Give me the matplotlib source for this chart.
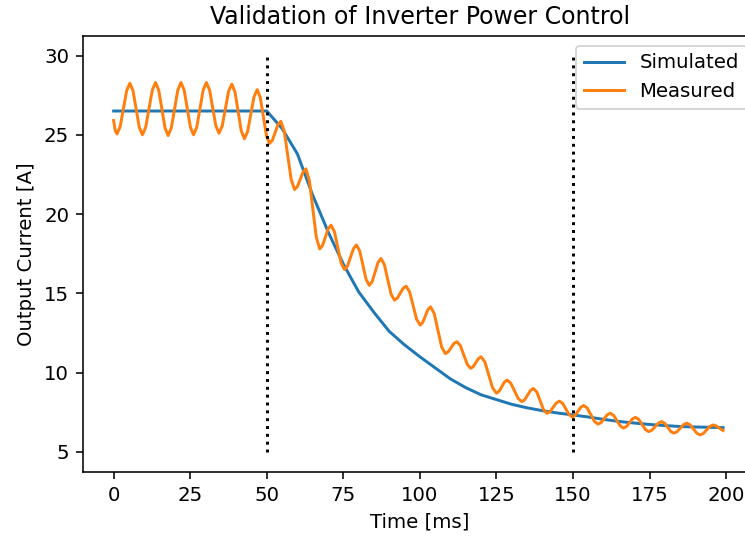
import matplotlib
matplotlib.use("Agg")
import matplotlib.pyplot as plt

# simulated output current
sim_t = [0, 50, 55, 60, 65, 70, 75, 80, 85, 90, 95, 100, 105, 110, 115, 120,
         125, 130, 135, 140, 145, 150, 155, 160, 165, 170, 175, 180, 185,
         190, 195, 199]
sim_i = [26.5, 26.5, 25.4, 23.8, 21.2, 18.9, 16.85, 15.1, 13.8, 12.6, 11.75,
         11.0, 10.3, 9.6, 9.05, 8.6, 8.3, 8.0, 7.78, 7.6, 7.45, 7.33, 7.2,
         7.05, 6.92, 6.82, 6.73, 6.66, 6.6, 6.57, 6.55, 6.53]

# measured output current
meas_t = [0, 0.5, 1.1, 2.15, 3.2, 4.25, 5.3, 6.33, 7.35, 8.38, 9.4,
          10.48, 11.55, 12.63, 13.7, 14.73, 15.75, 16.78, 17.8,
          18.85, 19.9, 20.95, 22.0, 23.03, 24.05, 25.08, 26.1,
          27.15, 28.2, 29.25, 30.3, 31.33, 32.35, 33.38, 34.4,
          35.45, 36.5, 37.55, 38.6, 39.63, 40.65, 41.68, 42.7,
          43.75, 44.8, 45.85, 46.9, 47.9, 48.9, 49.9, 50.9,
          51.83, 52.75, 53.68, 54.6, 55.73, 56.85, 57.98, 59.1,
          60.03, 60.95, 61.88, 62.8, 63.93, 65.05, 66.18, 67.3,
          68.23, 69.15, 70.08, 71.0, 72.1, 73.2, 74.3, 75.4,
          76.38, 77.35, 78.33, 79.3, 80.35, 81.4, 82.45, 83.5,
          84.45, 85.4, 86.35, 87.3, 88.4, 89.5, 90.6, 91.7,
          92.65, 93.6, 94.55, 95.5, 96.65, 97.8, 98.95, 100.1,
          100.95, 101.8, 102.65, 103.5, 104.7, 105.9, 107.1, 108.3,
          109.25, 110.2, 111.15, 112.1, 113.23, 114.35, 115.48, 116.6,
          117.45, 118.3, 119.15, 120.0, 121.25, 122.5, 123.75, 125.0,
          125.88, 126.75, 127.63, 128.5, 129.7, 130.9, 132.1, 133.3,
          134.25, 135.2, 136.15, 137.1, 138.2, 139.3, 140.4, 141.5,
          142.53, 143.55, 144.58, 145.6, 146.65, 147.7, 148.75, 149.8,
          150.73, 151.65, 152.58, 153.5, 154.68, 155.85, 157.03, 158.2,
          159.2, 160.2, 161.2, 162.2, 163.28, 164.35, 165.43, 166.5,
          167.48, 168.45, 169.43, 170.4, 171.48, 172.55, 173.63, 174.7,
          175.78, 176.85, 177.93, 179.0, 179.98, 180.95, 181.93, 182.9,
          183.98, 185.05, 186.13, 187.2, 188.28, 189.35, 190.43, 191.5,
          192.58, 193.65, 194.73, 195.8, 196.6, 197.4, 198.2, 199.0]
meas_i = [25.9, 25.3, 25.05, 25.52, 26.65, 27.78, 28.25, 27.78, 26.63, 25.47, 25.0,
          25.48, 26.65, 27.82, 28.3, 27.81, 26.63, 25.44, 24.95,
          25.44, 26.63, 27.81, 28.3, 27.82, 26.65, 25.48, 25.0,
          25.48, 26.65, 27.82, 28.3, 27.83, 26.7, 25.57, 25.1,
          25.55, 26.65, 27.75, 28.2, 27.7, 26.48, 25.25, 24.75,
          25.2, 26.3, 27.4, 27.85, 27.35, 26.15, 24.95, 24.45,
          24.65, 25.15, 25.65, 25.85, 25.22, 23.7, 22.18, 21.55,
          21.74, 22.2, 22.66, 22.85, 22.11, 20.33, 18.54, 17.8,
          18.02, 18.55, 19.08, 19.3, 18.89, 17.9, 16.91, 16.5,
          16.73, 17.28, 17.82, 18.05, 17.68, 16.78, 15.87, 15.5,
          15.75, 16.35, 16.95, 17.2, 16.82, 15.89, 14.95, 14.57,
          14.7, 15.01, 15.32, 15.45, 15.09, 14.23, 13.36, 13.0,
          13.17, 13.58, 13.98, 14.15, 13.72, 12.68, 11.63, 11.2,
          11.31, 11.58, 11.84, 11.95, 11.7, 11.11, 10.52, 10.27,
          10.38, 10.64, 10.89, 11.0, 10.66, 9.85, 9.04, 8.7,
          8.82, 9.12, 9.41, 9.53, 9.33, 8.85, 8.37, 8.17,
          8.29, 8.59, 8.88, 9.0, 8.77, 8.22, 7.66, 7.43,
          7.54, 7.82, 8.09, 8.2, 8.05, 7.7, 7.35, 7.2,
          7.31, 7.57, 7.82, 7.93, 7.76, 7.34, 6.92, 6.75,
          6.85, 7.1, 7.34, 7.44, 7.3, 6.97, 6.64, 6.5,
          6.6, 6.84, 7.08, 7.18, 7.05, 6.73, 6.41, 6.28,
          6.37, 6.6, 6.82, 6.91, 6.8, 6.55, 6.29, 6.18,
          6.27, 6.5, 6.72, 6.81, 6.7, 6.44, 6.18, 6.07,
          6.16, 6.39, 6.61, 6.7, 6.65, 6.55, 6.45, 6.35]

# step change markers
step_times = [50, 150]
step_lo, step_hi = 5, 30

dpi = 142
fig = plt.figure(figsize=(745 / dpi, 539 / dpi), dpi=dpi)
ax = fig.add_axes([83 / 745, 67.3 / 539, 673.7 / 745, 436 / 539])

ax.plot(sim_t, sim_i, label="Simulated")
ax.plot(meas_t, meas_i, label="Measured")
ax.vlines(step_times, step_lo, step_hi, colors="k", linestyles="dotted")

ax.set_xlim(-10, 210)
ax.set_ylim(3.75, 31.25)
ax.set_xticks([0, 25, 50, 75, 100, 125, 150, 175, 200])
ax.set_yticks([5, 10, 15, 20, 25, 30])
ax.set_xlabel("Time [ms]")
ax.set_ylabel("Output Current [A]")
ax.set_title("Validation of Inverter Power Control")
ax.legend(loc="upper right")

fig.savefig("out.png", dpi=dpi)
